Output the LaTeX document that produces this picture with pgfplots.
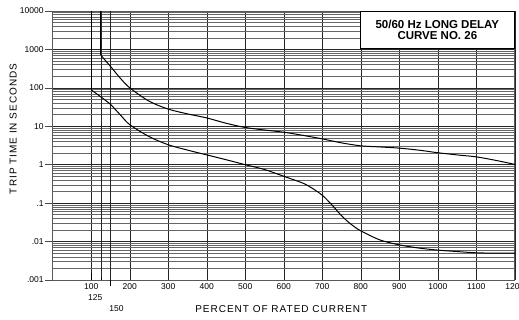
\documentclass[border=0pt]{standalone}
\usepackage{fontspec}
\setmainfont{Liberation Sans}
\newfontfamily\lblfont[LetterSpace=10]{Liberation Sans}
\usepackage{pgfplots}
\pgfplotsset{compat=1.18}

\begin{document}
\begin{tikzpicture}
\begin{axis}[
  scale only axis, width=462pt, height=269pt,
  xmin=0, xmax=1200, ymode=log, ymin=0.001, ymax=10000,
  clip=false,
  xtick={100,200,300,400,500,600,700,800,900,1000,1100,1200},
  xticklabels={100,200,300,400,500,600,700,800,900,1000,1100,1200},
  extra x ticks={125,150}, extra x tick labels={},
  extra x tick style={grid=major},
  ytick={0.001,0.01,0.1,1,10,100,1000,10000},
  yticklabels={.001,.01,.1,1,10,100,1000,10000},
  xmajorgrids=true, ymajorgrids=true, yminorgrids=true,
  major grid style={black!85, line width=0.6pt},
  minor grid style={black!60, line width=0.6pt},
  tick align=outside, major tick length=8pt, minor tick length=0pt,
  ytick pos=left, xtick pos=bottom,
  x tick style={draw=none},
  y tick style={black!70, line width=0.6pt},
  axis line style={black!65, line width=0.8pt},
  tick label style={font=\fontsize{8.5}{10}\selectfont},
  xticklabel style={anchor=base, yshift=-2pt},
  yticklabel style={inner xsep=1pt},
]
% upper curve
\addplot[black, line width=1pt] coordinates {(125,10000) (125,700)};
\addplot[black, line width=1pt, smooth, tension=0.5] coordinates {
(125,700) (150,360) (175,180) (200,100) (250,45) (300,28) (350,21) (400,16.5)
(450,12) (500,9.3) (550,8) (600,7) (650,5.8) (700,4.7) (750,3.7) (800,3.1)
(850,2.9) (900,2.7) (950,2.4) (1000,2.05) (1050,1.8) (1100,1.6) (1150,1.3) (1200,1.02)};
% lower curve
\addplot[black, line width=1pt] coordinates {(100,10000) (100,88)};
\addplot[black, line width=1pt, smooth, tension=0.5] coordinates {
(100,88) (125,58) (150,37) (175,20) (200,11) (250,5.4) (300,3.3) (350,2.4)
(400,1.8) (450,1.35) (500,1.0) (550,0.75) (600,0.5) (650,0.33) (675,0.24) (700,0.16)
(725,0.09) (750,0.047) (775,0.028) (800,0.019) (850,0.011) (900,0.0082)
(950,0.0068) (1000,0.006) (1050,0.0055) (1100,0.0051) (1150,0.005) (1200,0.005)};
% extended ticks
\draw[black, line width=0.7pt] (axis cs:100,0.001) -- ++(0,-10pt);
\draw[black, line width=0.7pt] (axis cs:125,0.001) -- ++(0,-15pt);
\draw[black, line width=0.7pt] (axis cs:150,0.001) -- ++(0,-23pt);
\path (axis cs:125,0.001) ++(1.7pt,-21pt) node[anchor=base east, inner sep=0pt, font=\fontsize{8.5}{10}\selectfont] {125};
\path (axis cs:150,0.001) ++(-1.4pt,-32pt) node[anchor=base west, inner sep=0pt, font=\fontsize{8.5}{10}\selectfont] {150};
% labels
\path (rel axis cs:0.5,0) ++(-2.5pt,-32.5pt) node[anchor=base, inner sep=0pt, font=\lblfont\fontsize{10}{12}\selectfont] {PERCENT OF RATED CURRENT};
\path (rel axis cs:0,0.5) ++(-36.1pt,0) node[anchor=base, rotate=90, inner sep=0pt, font=\lblfont\fontsize{10}{12}\selectfont] {TRIP TIME IN SECONDS};
% title box
\node[draw=black, fill=white, line width=0.9pt, anchor=north east, minimum width=154pt, minimum height=37.5pt, align=center, inner sep=0pt, font=\bfseries\fontsize{11.5}{11}\selectfont] at (rel axis cs:1,1) {50/60 Hz LONG DELAY\\CURVE NO. 26};
\end{axis}
\pgfresetboundingbox
\path[use as bounding box] (-52.8pt,-40pt) rectangle (466.2pt,280pt);
\end{tikzpicture}
\end{document}
